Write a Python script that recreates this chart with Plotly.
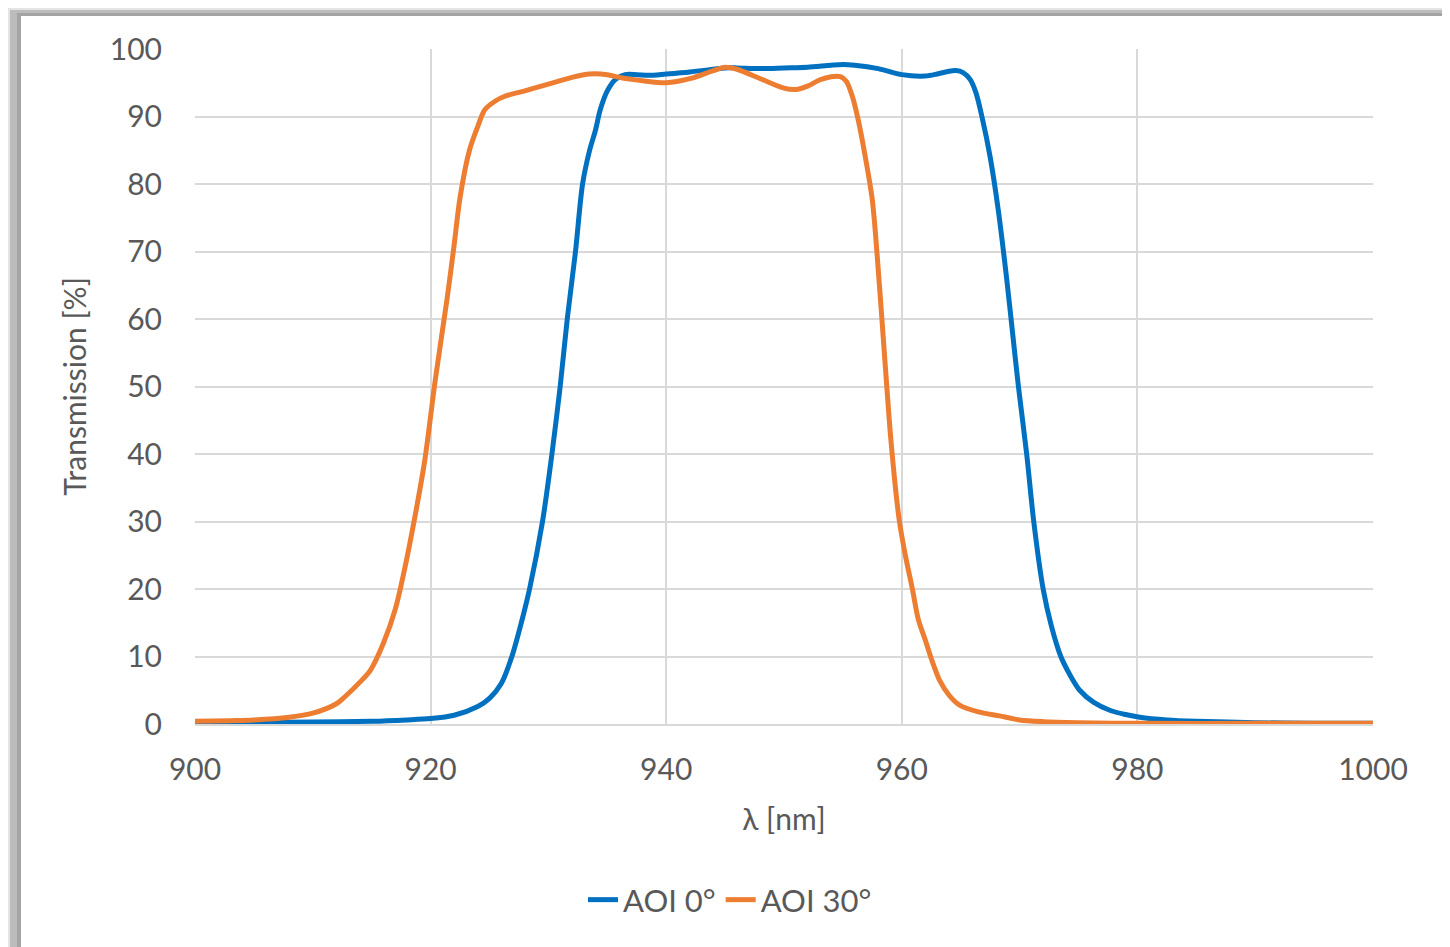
import plotly.graph_objects as go

# Wavelength [nm] and transmission [%]
wl_aoi0 = [900, 905, 910, 915, 918, 920, 922, 924, 925, 926, 926.9, 927.7, 928.4, 929.5, 930.3,
           931.0, 931.6, 932.3, 932.9, 933.5, 934.0, 934.4, 935.0, 935.7, 936.5, 937.5, 938.5,
           940, 942, 944, 945, 946, 948, 950, 952, 954, 955, 956, 958, 960, 962, 963, 964,
           964.6, 965.2, 965.8, 966.3, 966.8, 967.5, 968.2, 968.9, 969.4, 969.9, 970.6, 971.2,
           972.0, 972.7, 973.5, 974.3, 975.1, 976.3, 977.7, 979.0, 980.2, 982.5, 985, 990,
           995, 1000]
t_aoi0 = [0.1, 0.2, 0.3, 0.4, 0.6, 0.8, 1.3, 2.6, 3.8, 6.0, 10, 15, 20, 30, 40,
          50, 60, 70, 80, 85, 88, 91, 93.8, 95.5, 96.2, 96.2, 96.1,
          96.3, 96.6, 97.0, 97.2, 97.2, 97.1, 97.2, 97.3, 97.6, 97.7, 97.6, 97.1, 96.2, 96.0,
          96.3, 96.7, 96.8, 96.5, 95.5, 93.5, 90, 84, 76, 66, 58, 50, 40, 30,
          20, 14.5, 10, 7.2, 5, 3.2, 2.0, 1.4, 1.0, 0.6, 0.4, 0.2, 0.1, 0.1]

wl_aoi30 = [900, 903, 905, 908, 910, 912, 912.7, 914, 914.9, 916, 917, 917.8, 918.7, 919.5,
            920.4, 921.4, 922.0, 922.5, 923.3, 924.0, 924.6, 925.5, 926.3, 928, 930, 932,
            933.5, 935, 936, 938, 940, 942, 944, 945, 946, 948, 950, 951, 952, 953, 954,
            954.8, 955.3, 955.8, 956.3, 956.8, 957.5, 958.1, 958.6, 959.0, 959.4, 959.8,
            960.3, 960.9, 961.4, 962.0, 962.6, 963.2, 964.0, 964.9, 966.5, 968.3, 970, 972,
            975, 980, 990, 1000]
t_aoi30 = [0.4, 0.5, 0.6, 1.0, 1.6, 3.0, 4.0, 6.2, 8, 12, 17, 23, 31, 39,
           51, 63, 71, 78, 85, 88.5, 91, 92.3, 93, 93.8, 94.8, 95.8,
           96.3, 96.2, 95.8, 95.3, 95.0, 95.6, 96.8, 97.3, 97.0, 95.6, 94.2, 94.0, 94.5, 95.4,
           95.9, 95.9, 95.2, 93, 89.5, 85, 77.6, 65, 53, 43.6, 36, 30,
           25, 20, 15.5, 12.4, 9.2, 6.5, 4.3, 2.8, 1.8, 1.2, 0.6, 0.35,
           0.2, 0.1, 0.1, 0.1]

x_ticks = [900, 920, 940, 960, 980, 1000]
y_ticks = [0, 10, 20, 30, 40, 50, 60, 70, 80, 90, 100]

FONT = "Lato"
GREY = "#595959"
GRID = "#d9d9d9"

fig = go.Figure()
fig.add_trace(go.Scatter(x=wl_aoi0, y=t_aoi0, mode="lines", name="AOI 0°",
                         line=dict(color="#0070C0", width=5, shape="spline", smoothing=0.8)))
fig.add_trace(go.Scatter(x=wl_aoi30, y=t_aoi30, mode="lines", name="AOI 30°",
                         line=dict(color="#ED7D31", width=5, shape="spline", smoothing=0.8)))

OFF = 8  # page body margin
W, H = 1450 - OFF, 947 - OFF
L, T = 195 - OFF, 49 - OFF
pw, ph = 1178, 675
R = W - L - pw
B = H - T - ph


def px_x(p):
    # screen pixel -> paper coordinate
    return (p - OFF - L) / pw


def px_y(p):
    return (T + ph - (p - OFF)) / ph


def rect(x0, y0, x1, y1, color):
    return dict(type="rect", xref="paper", yref="paper", x0=px_x(x0), x1=px_x(x1),
                y0=px_y(y1), y1=px_y(y0), fillcolor=color, line_width=0, layer="below")


shapes = [
    rect(0, 0, 1460, 960, "#e4e4e4"),
    rect(10, 10, 1460, 960, "#bcbcbc"),
    rect(17, 13, 1442, 960, "#a4a4a4"),
    rect(21, 16, 1442, 960, "white"),
    rect(1442, 16, 1460, 960, "#b8b8b8"),
]

fig.update_layout(
    width=W, height=H,
    margin=dict(l=L, r=R, t=T, b=B),
    paper_bgcolor="#e4e4e4",
    plot_bgcolor="rgba(0,0,0,0)",
    font=dict(family=FONT, color=GREY, size=30),
    shapes=shapes,
    showlegend=True,
    legend=dict(orientation="h", x=px_x(730), xanchor="center", y=px_y(900), yanchor="middle",
                font=dict(size=31, color=GREY), bgcolor="rgba(0,0,0,0)", itemwidth=30,
                tracegroupgap=0),
    xaxis=dict(range=[900, 1000], tickvals=x_ticks, ticktext=[str(v) for v in x_ticks],
               showgrid=True, gridcolor=GRID, gridwidth=2, zeroline=False,
               showline=True, linecolor=GRID, linewidth=2, mirror=False,
               ticks="", ticklabelstandoff=18,
               title=dict(text="λ [nm]", font=dict(size=30, color=GREY), standoff=24)),
    yaxis=dict(range=[0, 100], tickvals=y_ticks, ticktext=[str(v) for v in y_ticks],
               showgrid=True, gridcolor=GRID, gridwidth=2, zeroline=False,
               showline=False, ticks="", ticklabelstandoff=32,
               title=dict(text="Transmission [%]", font=dict(size=30, color=GREY), standoff=14)),
)

fig.write_html("out.html")
